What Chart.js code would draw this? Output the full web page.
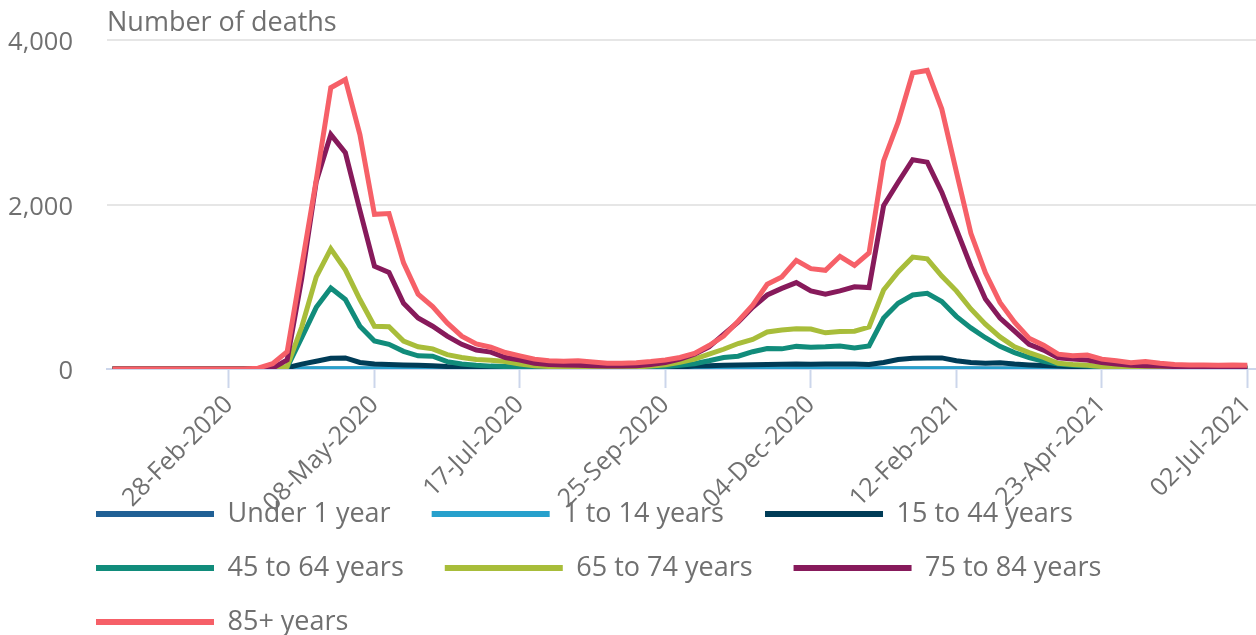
<!DOCTYPE html>
<html>
<head>
<meta charset="utf-8">
<style>
  html, body { margin: 0; padding: 0; background: #ffffff; }
</style>
<script src="https://cdn.jsdelivr.net/npm/chart.js@4.4.0/dist/chart.umd.min.js"></script>
</head>
<body>
<canvas id="deathsChart" width="1256" height="635"></canvas>
<script>
// weekly deaths by age group, week 0 = week ending 03-Jan-2020
const tickWeeks = [8, 18, 28, 38, 48, 58, 68, 78];
const tickLabels = ['28-Feb-2020', '08-May-2020', '17-Jul-2020', '25-Sep-2020',
                    '04-Dec-2020', '12-Feb-2021', '23-Apr-2021', '02-Jul-2021'];

const seriesNames = ['Under 1 year', '1 to 14 years', '15 to 44 years', '45 to 64 years',
                     '65 to 74 years', '75 to 84 years', '85+ years'];
const seriesColours = ['#206095', '#27a0cc', '#003c57', '#118c7b', '#a8bd3a', '#871a5b', '#f66068'];

const under1 = [0,0,0,0,0,0,0,0,0,0, 0,0,0,0,1,1,1,0,0,0, 0,0,0,0,0,0,0,0,0,0, 0,0,0,0,0,0,0,0,0,0,
                0,0,0,0,0,0,0,0,0,0, 0,0,0,1,1,1,1,0,0,0, 0,0,0,0,0,0,0,0,0,0, 0,0,0,0,0,0,0,0,0];
const age1to14 = [0,0,0,0,0,0,0,0,0,0, 0,0,0,1,2,3,3,2,1,1, 1,0,0,0,0,0,0,0,0,0, 0,0,0,0,0,0,0,0,0,0,
                  0,1,1,1,1,1,1,1,1,1, 1,1,1,2,3,3,3,3,2,2, 1,1,1,0,0,0,0,0,0,0, 0,0,0,0,0,0,0,0,0];
const age15to44 = [0,0,0,0,0,0,0,0,0,0, 0,2,15,60,95,130,135,80,60,55, 50,45,40,30,25,22,20,18,15,12,
                   10,10,8,8,8,10,12,15,18,25, 35,40,45,50,52,55,58,60,58,60,
                   62,60,55,80,115,130,135,135,100,80, 70,75,60,50,42,35,30,25,20,18, 15,12,12,10,10,8,8,8,8];
const age45to64 = [0,0,0,0,0,0,0,0,0,0, 0,3,20,380,750,985,845,520,340,300, 215,160,155,90,60,45,35,30,20,15,
                   12,12,12,12,12,15,18,22,30,45, 65,100,140,155,210,250,245,275,265,270,
                   280,255,280,620,800,900,920,820,640,500, 380,275,200,140,95,60,45,35,25,18, 15,12,10,10,8,8,8,8,8];
const age65to74 = [0,0,0,0,0,0,0,0,0,0, 0,5,30,510,1120,1460,1205,845,520,515, 340,270,245,175,140,115,105,90,60,40,
                   30,25,25,20,20,20,25,35,50,80, 120,180,240,310,360,450,475,490,485,440,
                   455,460,510,960,1180,1360,1340,1130,950,730, 545,390,270,200,140,70,55,45,30,20, 15,12,10,10,8,8,8,8,8];
const age75to84 = [0,0,0,0,0,0,0,0,0,0, 0,10,110,1100,2280,2850,2630,1930,1250,1175, 800,620,520,400,300,230,205,140,110,70,
                   55,50,45,40,35,35,40,55,80,120, 180,270,420,570,750,900,980,1050,950,910,
                   950,1000,990,1985,2270,2545,2515,2150,1700,1250, 850,620,460,300,230,135,120,110,80,60, 45,40,35,30,30,25,30,30,25];
const age85plus = [0,0,0,0,0,0,0,0,0,0, 10,65,210,1250,2300,3420,3520,2850,1880,1890, 1290,910,760,560,400,305,265,200,160,120,
                   100,93,100,85,70,70,75,90,110,140, 190,285,400,580,775,1030,1120,1320,1220,1200,
                   1370,1260,1410,2530,3000,3600,3630,3160,2400,1650, 1170,810,570,375,290,180,160,170,120,100, 75,90,70,55,50,50,45,50,45];

const seriesValues = [under1, age1to14, age15to44, age45to64, age65to74, age75to84, age85plus];

Chart.defaults.font.family = '"Open Sans", sans-serif';
Chart.defaults.color = '#707070';

// the legend sits over the bottom of the rotated date labels, as in the original
const legendPlacement = {
    id: 'legendPlacement',
    afterLayout(chart) {
        const lg = chart.legend;
        const h = lg.height;
        lg.left = 69;
        lg.top = 473.5;
        lg.bottom = lg.top + h;
    }
};

const ctx = document.getElementById('deathsChart').getContext('2d');

const chart = new Chart(ctx, {
    type: 'line',
    data: {
        datasets: seriesValues.map((values, k) => ({
            label: seriesNames[k],
            data: values.map((v, i) => ({ x: i, y: v })),
            borderColor: seriesColours[k],
            backgroundColor: seriesColours[k],
            borderWidth: 5,
            pointRadius: 0,
            tension: 0,
            order: seriesNames.length - k,   // later series drawn on top
            clip: { left: 5, top: 5, right: 5, bottom: 0 }
        }))
    },
    plugins: [legendPlacement],
    options: {
        responsive: false,
        animation: false,
        devicePixelRatio: 1,
        layout: { padding: { left: 0, right: 0, top: 0, bottom: -49 } },
        scales: {
            x: {
                type: 'linear',
                z: 1,   // axis line over the series
                min: -0.385,
                max: 78.6,
                afterBuildTicks: scale => { scale.ticks = tickWeeks.map(v => ({ value: v })); },
                afterFit: scale => {
                    scale.height = 143;
                    scale.paddingLeft = 0;
                    scale.paddingRight = 0;
                },
                ticks: {
                    autoSkip: false,
                    maxRotation: 45,
                    minRotation: 45,
                    padding: 2,
                    font: { size: 25 },
                    color: '#707070',
                    callback: value => tickLabels[tickWeeks.indexOf(value)]
                },
                grid: {
                    drawOnChartArea: false,
                    tickLength: 19,
                    tickColor: '#ccd6eb',
                    tickWidth: 2
                },
                border: { color: '#ccd6eb', width: 2 }
            },
            y: {
                min: 0,
                max: 4000,
                afterFit: scale => {
                    scale.width = 107;
                    scale.paddingTop = 0;
                    scale.paddingBottom = 0;
                },
                ticks: {
                    stepSize: 2000,
                    padding: 34,
                    labelOffset: 3,
                    font: { size: 25.5 },
                    color: '#707070',
                    callback: value => value.toLocaleString('en-GB')
                },
                grid: {
                    drawTicks: false,
                    lineWidth: 2,
                    color: c => (c.tick && c.tick.value === 0) ? 'rgba(0,0,0,0)' : '#e6e6e6'
                },
                border: { display: false }
            }
        },
        plugins: {
            title: {
                display: true,
                text: 'Number of deaths',
                align: 'start',
                fullSize: false,
                color: '#707070',
                font: { size: 27, weight: 'normal', lineHeight: 1.15 },
                padding: { top: 8, bottom: 0.95 }
            },
            legend: {
                position: 'bottom',
                align: 'start',
                labels: {
                    boxWidth: 118,
                    boxHeight: 6,
                    padding: 27,
                    color: '#707070',
                    font: { size: 27 },
                    sort: (a, b) => a.datasetIndex - b.datasetIndex,
                    generateLabels: chart => {
                        const items = Chart.defaults.plugins.legend.labels.generateLabels(chart);
                        items.forEach(item => {
                            item.lineWidth = 0;
                            item.text = item.text + '  ';
                        });
                        return items;
                    }
                }
            },
            tooltip: { enabled: false }
        }
    }
});
</script>
</body>
</html>
